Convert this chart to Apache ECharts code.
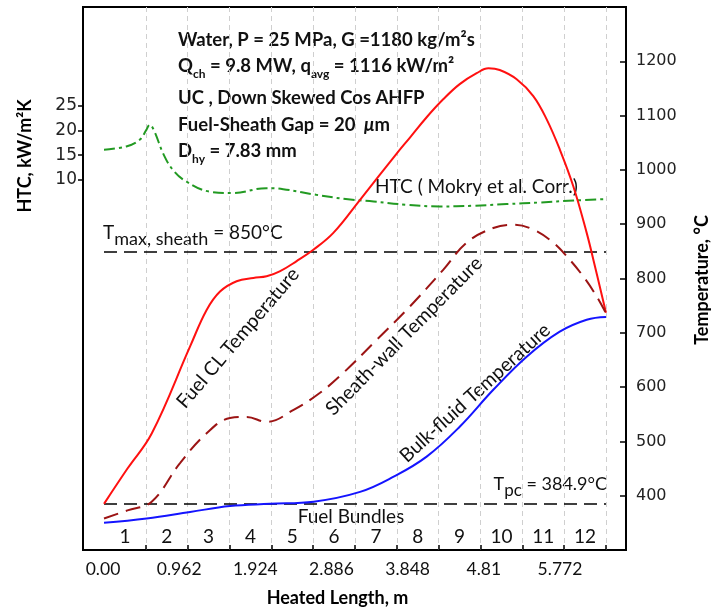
<!DOCTYPE html>
<html>
<head>
<meta charset="utf-8">
<script src="https://cdn.jsdelivr.net/npm/echarts@6/dist/echarts.min.js"></script>
<style>
html, body { margin: 0; padding: 0; background: #fff; }
#chart { width: 717px; height: 612px; }
</style>
</head>
<body>
<div id="chart"></div>
<script>
// heated length (m) / temperature (°C)
var fuelX = [0, 0.27, 0.55, 0.99, 1.18, 1.334, 1.525, 1.717, 1.87, 2.02, 2.215, 2.407, 2.637, 2.944, 3.365, 3.52, 3.71, 3.90, 4.09, 4.285, 4.42, 4.55, 4.745, 4.936, 5.09, 5.24, 5.396, 5.55, 5.626, 5.772];
var fuelT = [385, 450, 515, 675, 742, 776, 795, 801, 804, 813, 832, 853, 884, 945, 1030, 1060, 1097, 1130, 1158, 1178, 1187, 1184, 1167, 1136, 1093, 1038, 970, 884, 835, 737];

var sheathX = [0, 0.27, 0.548, 0.874, 1.18, 1.449, 1.64, 1.87, 2.18, 2.48, 2.75, 3.135, 3.52, 3.90, 4.17, 4.476, 4.71, 4.936, 5.166, 5.32, 5.51, 5.665, 5.772];
var sheathT = [358, 373, 389, 460, 515, 543, 545, 536, 558, 589, 626, 687, 749, 816, 866, 893, 899, 890, 866, 841, 804, 767, 736];

var bulkX = [0, 0.49, 0.99, 1.449, 1.91, 2.41, 2.944, 3.33, 3.71, 4.09, 4.476, 4.86, 5.24, 5.55, 5.772];
var bulkT = [350, 358, 370, 381, 385, 389, 407, 435, 472, 527, 595, 656, 702, 724, 729];

// HTC, kW/m2K
var htcX = [0, 0.256, 0.41, 0.487, 0.525, 0.58, 0.678, 0.793, 0.946, 1.215, 1.48, 1.866, 2.06, 2.44, 2.78, 3.1, 3.48, 3.86, 4.245, 4.63, 5.01, 5.40, 5.772];
var htcV = [16.1, 16.75, 18.1, 20.1, 21.15, 19.8, 15.4, 12.0, 9.65, 7.6, 7.3, 8.3, 8.1, 6.95, 6.1, 5.6, 4.93, 4.6, 4.73, 5.07, 5.4, 5.8, 6.1];

var tMaxSheath = 850;
var tPc = 384.9;

var bundleEdges = [0.481, 0.962, 1.443, 1.924, 2.405, 2.886, 3.367, 3.848, 4.329, 4.81, 5.291, 5.772];
var bundleMids = [0.2405, 0.7215, 1.2025, 1.6835, 2.1645, 2.6455, 3.1265, 3.6075, 4.0885, 4.5695, 5.0505, 5.5315];
var bundleNames = ['1', '2', '3', '4', '5', '6', '7', '8', '9', '10', '11', '12'];

var lengthTicks = [0, 0.962, 1.924, 2.886, 3.848, 4.81, 5.772];
var lengthLabels = ['0.00', '0.962', '1.924', '2.886', '3.848', '4.81', '5.772'];
var htcTicks = [10, 15, 20, 25];
var tempTicks = [400, 500, 600, 700, 800, 900, 1000, 1100, 1200];

function zip(xs, ys) {
  return xs.map(function (x, i) { return [x, ys[i]]; });
}
function pick(vals, names) {
  return function (v) {
    for (var i = 0; i < vals.length; i++) {
      if (Math.abs(vals[i] - v) < 1e-6) return names[i];
    }
    return '';
  };
}
function plain(v) { return String(v); }

var txt = 'Lato';
var myChart = echarts.init(document.getElementById('chart'));

var option = {
  animation: false,
  backgroundColor: '#fff',
  grid: { left: 83, right: 91, top: 7, bottom: 62, show: true, borderColor: '#000', borderWidth: 2 },
  xAxis: [
    {
      type: 'value', min: -0.2415, max: 6.002, position: 'bottom',
      axisLine: { show: false, onZero: false },
      axisTick: { show: true, inside: true, length: 5, customValues: bundleEdges, lineStyle: { color: '#000', width: 1.5 } },
      axisLabel: { show: false },
      splitLine: { show: true, lineStyle: { color: '#cfcfcf', type: [5, 4], width: 1 } }
    },
    {
      type: 'value', min: -0.2415, max: 6.002, position: 'bottom',
      axisLine: { show: false, onZero: false },
      axisTick: { show: false },
      splitLine: { show: false },
      axisLabel: {
        inside: true, margin: 4, customValues: bundleMids, formatter: pick(bundleMids, bundleNames),
        fontFamily: txt, fontSize: 19, color: '#111'
      }
    },
    {
      type: 'value', min: -0.2526, max: 6.606, position: 'bottom',
      axisLine: { show: false, onZero: false },
      axisTick: { show: false },
      splitLine: { show: false },
      axisLabel: {
        margin: 10, customValues: lengthTicks, formatter: pick(lengthTicks, lengthLabels),
        fontFamily: txt, fontSize: 17.5, color: '#111'
      },
      name: 'Heated Length, m', nameLocation: 'middle', nameGap: 39,
      nameTextStyle: { fontFamily: txt, fontWeight: 'bold', fontSize: 18, color: '#000', padding: [0, 34, 0, 0] }
    }
  ],
  yAxis: [
    {
      type: 'value', min: -65, max: 45, interval: 5, position: 'left',
      axisLine: { show: false, onZero: false },
      axisTick: { show: true, length: 5, customValues: htcTicks, lineStyle: { color: '#000', width: 1.5 } },
      axisLabel: { customValues: htcTicks, margin: 6, formatter: plain, fontFamily: 'DejaVu Sans', fontSize: 17, color: '#222' },
      splitLine: { show: false }
    },
    {
      type: 'value', min: 300, max: 1300, interval: 100, position: 'right',
      axisLine: { show: false, onZero: false },
      axisTick: { show: true, inside: true, length: 6, customValues: tempTicks, lineStyle: { color: '#000', width: 1.5 } },
      axisLabel: { customValues: tempTicks, margin: 10, formatter: plain, fontFamily: 'DejaVu Sans', fontSize: 16, color: '#222' },
      splitLine: { show: false }
    }
  ],
  series: [
    {
      name: 'HTC', type: 'line', xAxisIndex: 0, yAxisIndex: 0, data: zip(htcX, htcV),
      smooth: 0.4, showSymbol: false, symbol: 'none',
      lineStyle: { color: '#229a22', width: 2, type: [11, 4, 3, 4] }
    },
    {
      name: 'Fuel CL', type: 'line', xAxisIndex: 0, yAxisIndex: 1, data: zip(fuelX, fuelT),
      smooth: 0.4, symbol: 'none',
      lineStyle: { color: '#ff1010', width: 2 }
    },
    {
      name: 'Sheath-wall', type: 'line', xAxisIndex: 0, yAxisIndex: 1, data: zip(sheathX, sheathT),
      smooth: 0.4, symbol: 'none',
      lineStyle: { color: '#9c1414', width: 2, type: [15, 8] }
    },
    {
      name: 'Bulk-fluid', type: 'line', xAxisIndex: 0, yAxisIndex: 1, data: zip(bulkX, bulkT),
      smooth: 0.4, symbol: 'none', z: 3,
      lineStyle: { color: '#1414ff', width: 2 },
      markLine: {
        silent: true, symbol: 'none', label: { show: false }, z: 1,
        lineStyle: { color: '#000', width: 1.5, type: [13, 7] },
        data: [
          [{ coord: [0, tMaxSheath] }, { coord: [5.772, tMaxSheath] }],
          [{ coord: [0, tPc] }, { coord: [5.772, tPc] }]
        ]
      }
    }
  ],
  graphic: [
    { type: 'text', x: 178, y: 40, style: { text: 'Water, P = 25 MPa, G =1180 kg/m²s', font: 'bold 18.5px Lato', fill: '#111', verticalAlign: 'middle' } },
    { type: 'text', x: 178, y: 66, style: {
      text: '{b|Q}{s|ch}{b| = 9.8 MW, q}{s|avg}{b| = 1116 kW/m²}', verticalAlign: 'middle',
      rich: { b: { font: 'bold 18.5px Lato', fill: '#111', lineHeight: 28 }, s: { font: 'bold 12px Lato', fill: '#111', verticalAlign: 'bottom' } } } },
    { type: 'text', x: 178, y: 98, style: { text: 'UC , Down Skewed Cos AHFP', font: 'bold 18.5px Lato', fill: '#111', verticalAlign: 'middle' } },
    { type: 'text', x: 178, y: 125, style: {
      text: '{b|Fuel-Sheath Gap = 20 }{i| μ}{b|m}', verticalAlign: 'middle',
      rich: { b: { font: 'bold 18.5px Lato', fill: '#111' }, i: { font: 'italic bold 18.5px Lato', fill: '#111' } } } },
    { type: 'text', x: 178, y: 151, style: {
      text: '{b|D}{s|hy}{b| = 7.83 mm}', verticalAlign: 'middle',
      rich: { b: { font: 'bold 18.5px Lato', fill: '#111', lineHeight: 28 }, s: { font: 'bold 12px Lato', fill: '#111', verticalAlign: 'bottom' } } } },

    { type: 'text', x: 103, y: 233, style: {
      text: '{t|T}{s|max, sheath}{t| = 850°C}', verticalAlign: 'middle',
      rich: { t: { font: '19px Lato', fill: '#111', lineHeight: 30 }, s: { font: '18px Lato', fill: '#111', verticalAlign: 'bottom' } } } },
    { type: 'text', x: 607, y: 484, style: {
      text: '{t|T}{s|pc}{t| = 384.9°C}', align: 'right', verticalAlign: 'middle',
      rich: { t: { font: '18px Lato', fill: '#111', lineHeight: 30 }, s: { font: '17px Lato', fill: '#111', verticalAlign: 'bottom' } } } },
    { type: 'text', x: 351, y: 517, style: { text: 'Fuel Bundles', font: '19px Lato', fill: '#111', align: 'center', verticalAlign: 'middle' } },
    { type: 'text', x: 375, y: 187, style: { text: 'HTC ( Mokry et al. Corr.)', font: '19px Lato', fill: '#111', verticalAlign: 'middle' } },

    { type: 'text', x: 238, y: 338, rotation: 49.5 * Math.PI / 180, style: { text: 'Fuel CL Temperature', font: '19.5px Lato', fill: '#111', align: 'center', verticalAlign: 'middle' } },
    { type: 'text', x: 404, y: 336, rotation: 45.4 * Math.PI / 180, style: { text: 'Sheath-wall Temperature', font: '19.5px Lato', fill: '#111', align: 'center', verticalAlign: 'middle' } },
    { type: 'text', x: 475, y: 393, rotation: 42.3 * Math.PI / 180, style: { text: 'Bulk-fluid Temperature', font: '19.5px Lato', fill: '#111', align: 'center', verticalAlign: 'middle' } },

    { type: 'text', x: 25, y: 156, rotation: Math.PI / 2, style: { text: 'HTC, kW/m²K', font: 'bold 18px Lato', fill: '#000', align: 'center', verticalAlign: 'middle' } },
    { type: 'text', x: 702, y: 280, rotation: Math.PI / 2, style: { text: 'Temperature, °C', font: 'bold 18px Lato', fill: '#000', align: 'center', verticalAlign: 'middle' } }
  ]
};

myChart.setOption(option);
</script>
</body>
</html>
